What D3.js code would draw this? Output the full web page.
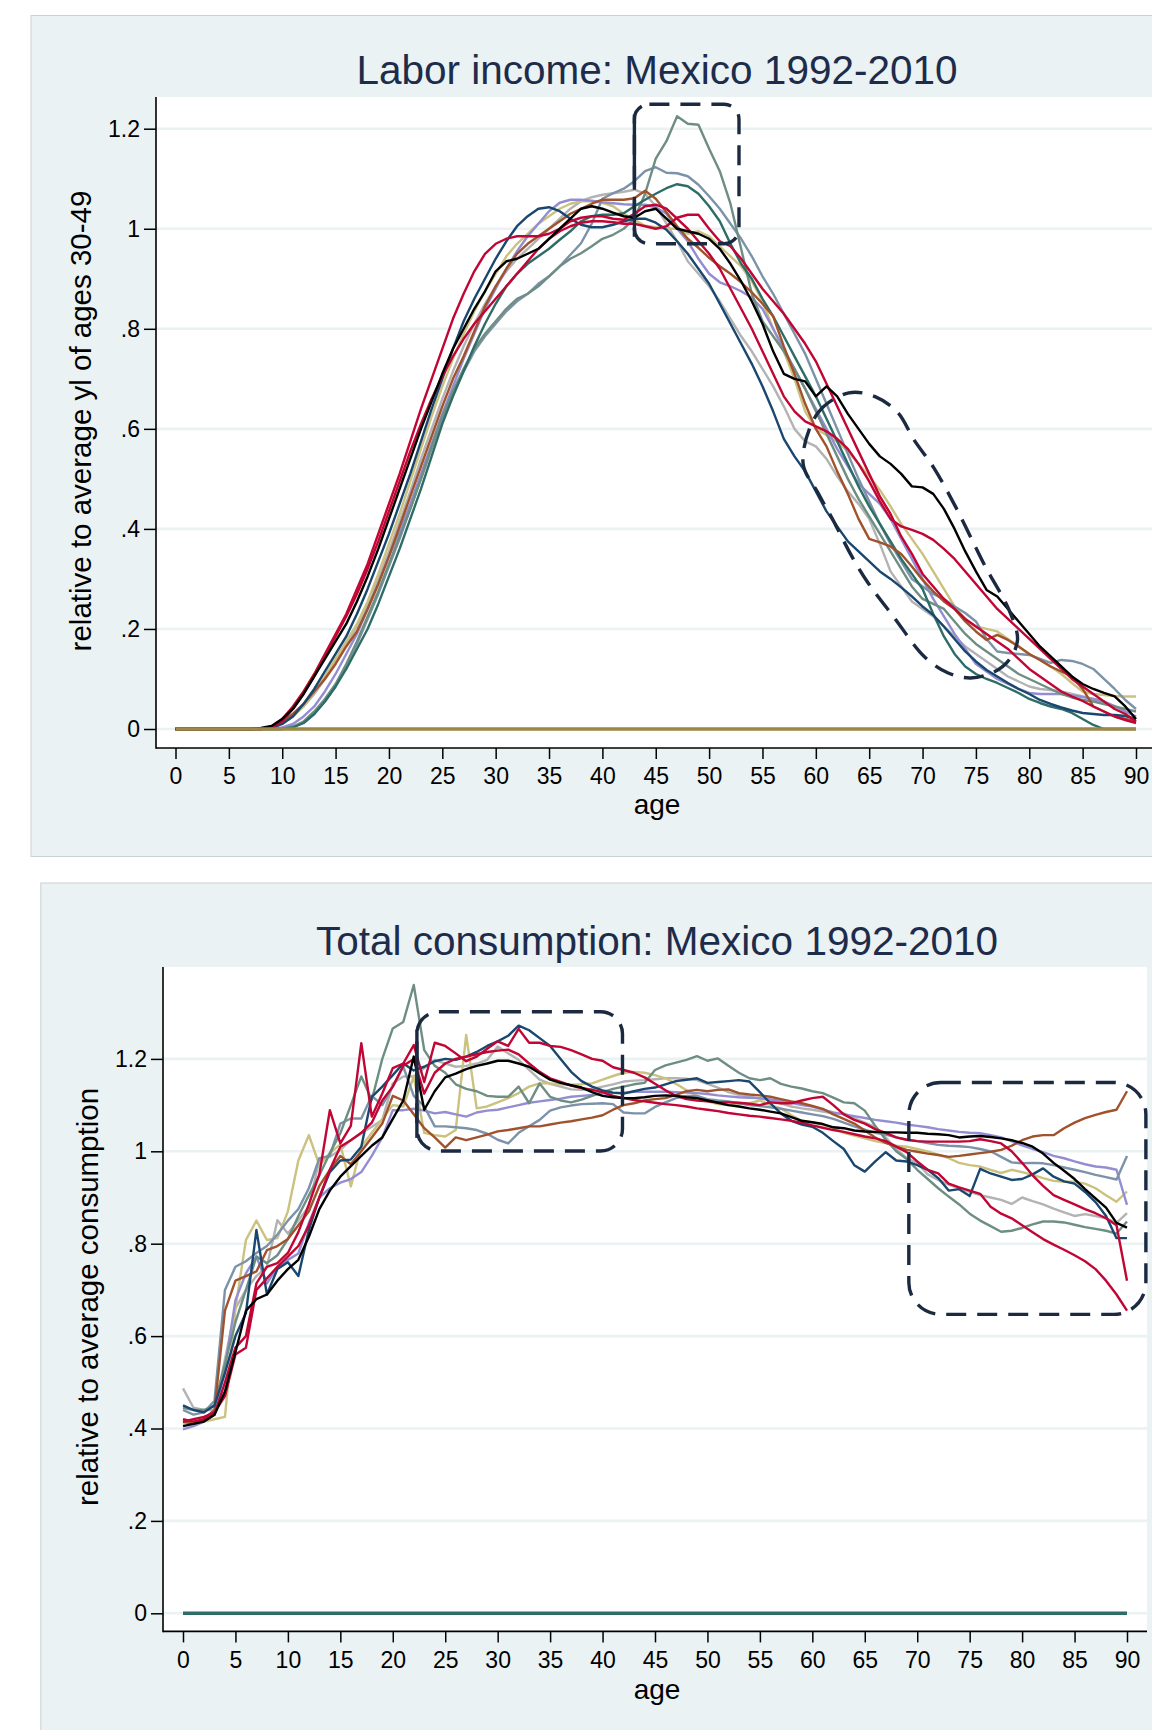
<!DOCTYPE html>
<html><head><meta charset="utf-8">
<script src="https://cdn.jsdelivr.net/npm/d3@7"></script>
<style>
body{margin:0;background:#ffffff}
svg{display:block}
</style>
</head><body>
<svg id="chart" width="1152" height="1730"></svg>
<script>
// ---------------- DATA ----------------
const ages = d3.range(0, 91);
const xTicks = [0,5,10,15,20,25,30,35,40,45,50,55,60,65,70,75,80,85,90];
const yTicks = [0,0.2,0.4,0.6,0.8,1,1.2];
const yTickLabels = ["0",".2",".4",".6",".8","1","1.2"];
const zeroAges = [0, 90];
const zeroValues = [0, 0];

// Labor income (relative to average yl of ages 30-49), one value per age 0..90
const li_black = [
0,0,0,0,0,0,0,0,.002,.006,
.02,.04,.07,.105,.14,.175,.21,.255,.305,.36,
.42,.48,.54,.6,.655,.71,.76,.8,.84,.875,
.915,.935,.94,.95,.96,.98,1.0,1.02,1.04,1.045,
1.04,1.032,1.025,1.022,1.035,1.04,1.02,1.0,.995,.99,
.98,.96,.93,.895,.855,.81,.755,.71,.7,.695,
.665,.685,.665,.63,.6,.57,.545,.53,.51,.485,
.483,.47,.44,.4,.355,.315,.278,.265,.24,.215,
.19,.165,.145,.125,.105,.09,.08,.072,.065,.045,
.02];
const li_navy = [
0,0,0,0,0,0,0,0,0,.002,
.01,.025,.05,.08,.115,.15,.185,.23,.28,.335,
.39,.45,.51,.575,.64,.7,.76,.815,.86,.9,
.94,.975,1.005,1.025,1.04,1.043,1.035,1.02,1.008,1.003,
1.003,1.008,1.015,1.02,1.02,1.012,.998,.975,.95,.92,
.89,.85,.81,.77,.73,.685,.635,.58,.545,.515,
.475,.435,.405,.375,.355,.335,.315,.3,.283,.265,
.245,.228,.205,.18,.155,.135,.118,.105,.092,.08,
.07,.058,.05,.043,.037,.032,.03,.028,.028,.026,
.02];
const li_redA = [
0,0,0,0,0,0,0,0,0,.005,
.02,.045,.075,.11,.15,.19,.23,.28,.33,.39,
.45,.51,.575,.64,.7,.76,.82,.87,.915,.95,
.97,.98,.985,.985,.985,.99,1.0,1.015,1.022,1.025,
1.025,1.02,1.018,1.03,1.045,1.048,1.04,1.02,1.0,.975,
.95,.92,.88,.84,.8,.755,.71,.665,.635,.615,
.605,.595,.58,.56,.53,.495,.455,.42,.405,.398,
.39,.378,.36,.34,.315,.29,.265,.24,.22,.2,
.18,.16,.14,.12,.1,.085,.07,.055,.04,.03,
.015];
const li_redB = [
0,0,0,0,0,0,0,0,0,.003,
.015,.04,.07,.105,.145,.185,.225,.27,.32,.375,
.435,.495,.555,.61,.66,.705,.745,.78,.81,.835,
.86,.885,.91,.935,.96,.98,.995,1.005,1.012,1.015,
1.015,1.013,1.01,1.01,1.005,1.0,1.005,1.022,1.028,1.028,
1.0,.975,.965,.94,.91,.88,.855,.83,.8,.77,
.735,.69,.645,.6,.555,.51,.465,.43,.385,.35,
.31,.285,.26,.24,.22,.205,.19,.175,.16,.14,
.12,.105,.09,.075,.065,.056,.045,.035,.025,.018,
.012];
const li_teal = [
0,0,0,0,0,0,0,0,0,0,
0,.005,.015,.035,.06,.09,.13,.175,.225,.275,
.33,.385,.44,.5,.565,.625,.675,.72,.76,.79,
.815,.84,.86,.87,.885,.905,.925,.94,.951,.965,
.98,.988,1.0,1.02,1.07,1.14,1.175,1.225,1.21,1.208,
1.16,1.115,1.05,.96,.87,.815,.785,.755,.72,.68,
.635,.59,.545,.5,.46,.425,.39,.355,.32,.285,
.26,.25,.24,.215,.19,.17,.155,.14,.125,.11,
.1,.09,.08,.07,.063,.058,.055,.05,.045,.04,
.035];
const li_emidblue = [
0,0,0,0,0,0,0,0,0,0,
0,.004,.012,.03,.055,.085,.125,.17,.22,.27,
.325,.38,.44,.5,.56,.62,.67,.715,.755,.785,
.81,.835,.855,.87,.89,.905,.925,.948,.971,1.01,
1.06,1.071,1.08,1.095,1.115,1.123,1.112,1.111,1.105,1.088,
1.065,1.04,1.01,.98,.945,.905,.87,.83,.79,.75,
.7,.65,.6,.55,.5,.455,.41,.37,.335,.3,
.285,.27,.26,.245,.232,.215,.18,.155,.152,.15,
.148,.14,.132,.138,.136,.13,.12,.1,.08,.058,
.04];
const li_emerald = [
0,0,0,0,0,0,0,0,0,0,
0,.003,.012,.03,.055,.085,.12,.16,.2,.25,
.305,.36,.42,.48,.545,.61,.665,.715,.765,.81,
.85,.885,.91,.93,.945,.96,.978,.995,1.015,1.025,
1.028,1.028,1.031,1.045,1.058,1.07,1.081,1.089,1.085,1.07,
1.045,1.015,.97,.93,.9,.86,.825,.785,.745,.705,
.665,.62,.575,.53,.485,.445,.41,.375,.34,.31,
.28,.23,.185,.15,.125,.11,.1,.092,.082,.072,
.06,.052,.045,.04,.032,.02,.008,0,0,0,
0];
const li_sienna = [
0,0,0,0,0,0,0,0,0,.005,
.015,.03,.05,.075,.1,.13,.165,.195,.24,.29,
.345,.405,.465,.525,.585,.645,.7,.745,.795,.845,
.885,.92,.95,.97,.985,1.0,1.015,1.03,1.04,1.05,
1.058,1.058,1.058,1.061,1.076,1.06,1.033,1.005,.98,.962,
.942,.925,.91,.893,.873,.85,.825,.765,.71,.65,
.6,.565,.515,.47,.42,.38,.373,.365,.35,.325,
.298,.275,.255,.24,.215,.195,.178,.188,.178,.165,
.15,.138,.125,.115,.105,.08,.045,.035,.025,.02,
.015];
const li_lavender = [
0,0,0,0,0,0,0,0,0,0,
.003,.01,.025,.045,.075,.11,.15,.19,.24,.29,
.345,.395,.45,.51,.57,.63,.685,.74,.79,.84,
.88,.92,.955,.985,1.01,1.035,1.052,1.058,1.058,1.056,
1.053,1.051,1.049,1.048,1.048,1.043,1.03,1.0,.975,.94,
.91,.893,.885,.875,.862,.84,.8,.76,.72,.68,
.64,.6,.56,.525,.49,.47,.45,.42,.38,.34,
.3,.26,.225,.19,.16,.13,.115,.1,.09,.08,
.072,.07,.07,.07,.067,.064,.06,.055,.046,.035,
.025];
const li_khaki = [
0,0,0,0,0,0,0,0,0,.003,
.01,.025,.045,.075,.105,.14,.175,.21,.255,.31,
.37,.43,.495,.56,.625,.685,.74,.79,.835,.875,
.91,.945,.97,.99,1.01,1.025,1.04,1.05,1.055,1.055,
1.052,1.045,1.03,1.018,1.006,1.003,1.0,1.0,.99,.995,
.985,.965,.945,.925,.895,.855,.8,.755,.7,.635,
.6,.588,.575,.555,.53,.505,.478,.445,.41,.38,
.35,.315,.28,.245,.22,.205,.2,.195,.18,.165,
.15,.138,.125,.11,.092,.075,.07,.068,.066,.065,
.065];
const li_gray = [
0,0,0,0,0,0,0,0,0,.003,
.012,.025,.045,.07,.1,.135,.17,.205,.25,.3,
.355,.415,.475,.54,.6,.66,.715,.765,.81,.85,
.885,.915,.94,.96,.98,1.0,1.02,1.04,1.055,1.063,
1.068,1.071,1.074,1.078,1.07,1.045,1.01,.975,.935,.91,
.885,.855,.82,.785,.755,.72,.685,.645,.6,.575,
.565,.54,.505,.475,.45,.42,.37,.315,.285,.255,
.24,.225,.205,.185,.165,.15,.135,.12,.105,.095,
.085,.08,.078,.075,.07,.065,.06,.055,.045,.035,
.025];

// Total consumption (relative to average consumption), one value per age 0..90
const co_black = [
.405,.41,.415,.43,.48,.565,.655,.68,.69,.72,
.745,.765,.815,.875,.915,.945,.968,.99,1.012,1.03,
1.07,1.11,1.205,1.09,1.13,1.16,1.168,1.178,1.185,1.19,
1.196,1.196,1.19,1.183,1.169,1.155,1.148,1.143,1.138,1.128,
1.12,1.117,1.115,1.115,1.117,1.12,1.121,1.12,1.117,1.115,
1.11,1.105,1.1,1.097,1.093,1.09,1.086,1.082,1.074,1.066,
1.063,1.059,1.052,1.05,1.045,1.043,1.042,1.041,1.041,1.04,
1.04,1.038,1.037,1.035,1.03,1.032,1.033,1.031,1.028,1.024,
1.018,1.01,.995,.975,.958,.94,.918,.898,.878,.845,
.835];
const co_navy = [
.45,.44,.435,.45,.52,.6,.65,.83,.69,.745,
.76,.73,.83,.9,.955,.98,.982,1.01,1.118,1.14,
1.165,1.19,1.175,1.183,1.195,1.2,1.198,1.205,1.215,1.228,
1.238,1.25,1.272,1.262,1.245,1.228,1.2,1.172,1.152,1.14,
1.132,1.127,1.125,1.13,1.135,1.138,1.145,1.152,1.155,1.158,
1.148,1.15,1.152,1.154,1.151,1.128,1.104,1.082,1.066,1.058,
1.053,1.04,1.022,1.005,.97,.956,.978,.998,.98,.978,
.97,.96,.942,.915,.918,.903,.962,.952,.945,.938,
.94,.95,.963,.945,.935,.93,.912,.89,.86,.812,
.812];
const co_redA = [
.42,.415,.42,.43,.5,.575,.6,.714,.75,.758,
.78,.825,.885,.95,1.089,1.017,1.055,1.234,1.075,1.125,
1.18,1.19,1.23,1.15,1.235,1.228,1.212,1.195,1.205,1.222,
1.238,1.228,1.265,1.235,1.235,1.228,1.226,1.219,1.21,1.2,
1.196,1.182,1.176,1.17,1.16,1.146,1.132,1.12,1.113,1.11,
1.108,1.106,1.106,1.105,1.103,1.1,1.106,1.104,1.104,1.11,
1.115,1.118,1.1,1.08,1.068,1.06,1.048,1.04,1.03,1.025,
1.022,1.021,1.021,1.021,1.021,1.022,1.026,1.022,1.017,1.0,
.975,.948,.925,.905,.895,.885,.875,.866,.855,.84,
.72];
const co_redB = [
.415,.42,.425,.435,.47,.56,.575,.7,.725,.75,
.772,.795,.84,.9,.96,1.01,1.024,1.04,1.062,1.11,
1.14,1.185,1.2,1.125,1.17,1.19,1.2,1.205,1.21,1.215,
1.218,1.22,1.21,1.19,1.172,1.158,1.15,1.142,1.137,1.133,
1.128,1.12,1.115,1.111,1.108,1.105,1.102,1.1,1.097,1.093,
1.09,1.087,1.083,1.08,1.077,1.075,1.072,1.069,1.066,1.062,
1.056,1.051,1.046,1.042,1.037,1.032,1.028,1.022,1.01,.998,
.978,.96,.952,.93,.922,.915,.908,.88,.865,.855,
.84,.825,.81,.798,.787,.775,.762,.745,.72,.69,
.655];
const co_teal = [
.445,.44,.44,.45,.54,.63,.7,.772,.758,.775,
.81,.86,.905,.948,.996,1.039,1.1,1.162,1.111,1.2,
1.266,1.28,1.36,1.219,1.185,1.17,1.145,1.135,1.13,1.12,
1.118,1.118,1.14,1.104,1.147,1.118,1.11,1.106,1.112,1.12,
1.128,1.135,1.14,1.145,1.148,1.176,1.186,1.192,1.198,1.206,
1.196,1.201,1.185,1.17,1.158,1.154,1.158,1.146,1.14,1.136,
1.13,1.126,1.116,1.106,1.104,1.088,1.055,1.025,1.0,.983,
.96,.94,.92,.902,.885,.865,.85,.838,.826,.828,
.834,.842,.848,.848,.846,.841,.836,.832,.828,.822,
.848];
const co_emidblue = [
.44,.43,.435,.46,.7,.75,.762,.78,.795,.82,
.85,.875,.92,.985,.99,1.06,1.071,1.071,1.12,1.1,
1.14,1.183,1.12,1.097,1.054,1.054,1.052,1.05,1.046,1.038,
1.025,1.017,1.04,1.054,1.068,1.088,1.095,1.099,1.102,1.103,
1.104,1.102,1.084,1.082,1.082,1.096,1.106,1.115,1.12,1.12,
1.113,1.11,1.108,1.104,1.1,1.098,1.095,1.092,1.088,1.084,
1.08,1.076,1.07,1.062,1.054,1.047,1.04,1.036,1.03,1.025,
1.022,1.018,1.014,1.012,1.011,1.009,1.005,1.0,.988,.976,
.974,.975,.974,.97,.965,.96,.955,.949,.944,.939,
.99];
const co_sienna = [
.415,.41,.42,.44,.655,.72,.73,.74,.786,.795,
.81,.84,.87,.925,.96,.99,.972,1.0,1.03,1.06,
1.12,1.11,1.08,1.05,1.03,1.008,1.03,1.024,1.03,1.036,
1.043,1.046,1.05,1.054,1.054,1.058,1.062,1.065,1.069,1.073,
1.078,1.09,1.1,1.104,1.11,1.113,1.115,1.122,1.13,1.133,
1.13,1.133,1.134,1.126,1.123,1.121,1.118,1.113,1.108,1.104,
1.098,1.092,1.08,1.07,1.06,1.045,1.03,1.018,1.01,1.003,
.999,.995,.992,.988,.99,.993,.996,.999,1.003,1.012,
1.024,1.032,1.035,1.035,1.05,1.062,1.072,1.079,1.085,1.09,
1.13];
const co_lavender = [
.398,.405,.415,.43,.53,.678,.736,.772,.714,.75,
.765,.779,.845,.9,.92,.932,.94,.955,.99,1.03,
1.089,1.089,1.092,1.088,1.082,1.085,1.08,1.075,1.084,1.088,
1.09,1.095,1.1,1.105,1.108,1.111,1.114,1.118,1.12,1.122,
1.125,1.126,1.127,1.129,1.129,1.129,1.129,1.128,1.127,1.126,
1.124,1.121,1.119,1.117,1.116,1.115,1.112,1.109,1.105,1.1,
1.097,1.09,1.084,1.08,1.076,1.072,1.068,1.065,1.062,1.058,
1.055,1.052,1.048,1.045,1.042,1.04,1.039,1.035,1.03,1.022,
1.013,1.005,.998,.99,.985,.978,.972,.967,.965,.96,
.884];
const co_khaki = [
.41,.415,.415,.42,.425,.66,.808,.85,.808,.812,
.87,.98,1.035,.97,.996,1.015,.924,1.01,1.04,1.07,
1.1,1.097,1.162,1.04,1.035,1.032,1.046,1.252,1.093,1.097,
1.106,1.115,1.126,1.14,1.147,1.147,1.145,1.144,1.145,1.147,
1.155,1.163,1.17,1.172,1.17,1.165,1.158,1.146,1.132,1.12,
1.108,1.102,1.1,1.102,1.104,1.11,1.1,1.093,1.078,1.066,
1.062,1.058,1.05,1.04,1.034,1.028,1.022,1.018,1.012,1.01,
1.005,1.0,.993,.985,.975,.97,.967,.96,.953,.96,
.955,.949,.942,.936,.934,.934,.93,.92,.905,.891,
.913];
const co_gray = [
.487,.445,.44,.44,.55,.66,.7,.73,.75,.851,
.822,.851,.88,.981,.988,1.003,1.024,1.039,1.053,1.068,
1.147,1.162,1.162,1.18,1.198,1.19,1.183,1.185,1.19,1.198,
1.227,1.212,1.198,1.176,1.155,1.146,1.14,1.134,1.133,1.135,
1.14,1.145,1.151,1.153,1.154,1.156,1.158,1.158,1.157,1.154,
1.146,1.138,1.128,1.122,1.118,1.114,1.111,1.104,1.097,1.093,
1.09,1.086,1.082,1.082,1.072,1.062,1.053,1.03,1.005,.985,
.975,.95,.938,.928,.92,.912,.905,.9,.895,.886,
.9,.892,.885,.876,.868,.86,.864,.86,.855,.845,
.866];

// Annotation shapes (in data units: age, value)
const liBoxAges = [43.0, 52.8];
const liBoxValues = [0.97, 1.249];
const liOvalAges =   [58.8,60.2,63.1,65.6,67.7,69.2,71.0,73.1,74.5,75.9,78.1,78.9,78.1,76.7,74.5,72.4,70.2,67.3,64.9,63.4,61.6,60.2];
const liOvalValues = [0.532,0.632,0.672,0.664,0.632,0.578,0.524,0.444,0.384,0.324,0.238,0.178,0.138,0.114,0.102,0.112,0.144,0.224,0.292,0.344,0.418,0.472];
const coBox1Ages = [22.3, 41.9];
const coBox1Values = [1.0007, 1.302];
const coBox2Ages = [69.2, 91.8];
const coBox2Values = [0.647, 1.149];

// ---------------- STYLE ----------------
const C = {
  black:"#000000", navy:"#1a476f", red:"#c10534", teal:"#6e8e84", emidblue:"#7b92a8",
  emerald:"#2d6d66", sienna:"#a0522d", lavender:"#938dd2", khaki:"#cac27e", gray:"#b3b3b3",
  brown:"#9c8847"
};
const FONT = '"Liberation Sans", Arial, Helvetica, sans-serif';
const BG = "#eaf2f3";
const ANNOT = "#1b2a41";

const laborSeries = [
  {v: li_gray, c: C.gray}, {v: li_khaki, c: C.khaki}, {v: li_lavender, c: C.lavender},
  {v: li_emidblue, c: C.emidblue}, {v: li_teal, c: C.teal}, {v: li_emerald, c: C.emerald},
  {v: li_sienna, c: C.sienna}, {v: li_navy, c: C.navy}, {v: li_redB, c: C.red},
  {v: li_redA, c: C.red}, {v: li_black, c: C.black}
];
const consSeries = [
  {v: co_gray, c: C.gray}, {v: co_khaki, c: C.khaki}, {v: co_lavender, c: C.lavender},
  {v: co_emidblue, c: C.emidblue}, {v: co_teal, c: C.teal}, {v: co_sienna, c: C.sienna},
  {v: co_navy, c: C.navy}, {v: co_redB, c: C.red}, {v: co_redA, c: C.red}, {v: co_black, c: C.black}
];

const svg = d3.select("#chart");

function panel(cfg) {
  const g = svg.append("g");
  g.append("rect").attr("x", cfg.bg[0]).attr("y", cfg.bg[1]).attr("width", cfg.bg[2]).attr("height", cfg.bg[3])
    .attr("fill", BG).attr("stroke", "#c9d1d4").attr("stroke-width", 1);
  const L = cfg.plot[0], T = cfg.plot[1], R = cfg.plot[2], B = cfg.plot[3];
  g.append("rect").attr("x", L).attr("y", T).attr("width", R - L).attr("height", B - T).attr("fill", "#ffffff");

  const x = d3.scaleLinear().domain([0, 90]).range(cfg.xr);
  const y = d3.scaleLinear().domain([0, 1.2]).range(cfg.yr);

  // gridlines
  g.append("g").selectAll("line").data(yTicks).join("line")
    .attr("x1", L).attr("x2", R).attr("y1", d => y(d)).attr("y2", d => y(d))
    .attr("stroke", BG).attr("stroke-width", 2.6);

  const clipId = "clip" + cfg.id;
  svg.append("clipPath").attr("id", clipId).append("rect")
    .attr("x", L + 1).attr("y", T).attr("width", R - L).attr("height", B - T - 1);

  const line = d3.line().x((d, i) => x(ages[i])).y(d => y(d)).curve(d3.curveLinear);
  const lg = g.append("g").attr("clip-path", `url(#${clipId})`);
  lg.selectAll("path.s").data(cfg.series).join("path").attr("class", "s")
    .attr("d", d => line(d.v)).attr("fill", "none").attr("stroke", d => d.c)
    .attr("stroke-width", 2.4).attr("stroke-linejoin", "round");
  const zline = d3.line().x((d, i) => x(zeroAges[i])).y(d => y(d));
  lg.append("path").attr("d", zline(zeroValues)).attr("fill", "none")
    .attr("stroke", cfg.zeroColor).attr("stroke-width", 3.4);

  // annotations
  const ag = g.append("g").attr("fill", "none").attr("stroke", ANNOT).attr("stroke-width", 3.4)
    .attr("stroke-dasharray", "20,11");
  cfg.boxes.forEach(b => {
    const x0 = x(b.a[0]), x1 = x(b.a[1]), y0 = y(b.v[1]), y1 = y(b.v[0]);
    ag.append("rect").attr("x", x0).attr("y", y0).attr("width", x1 - x0).attr("height", y1 - y0)
      .attr("rx", b.r).attr("ry", b.r);
    if (b.solidLeft) {
      b.solidLeft.forEach(s => {
        g.append("line").attr("x1", x0).attr("x2", x0).attr("y1", y(s[0])).attr("y2", y(s[1]))
          .attr("stroke", ANNOT).attr("stroke-width", 3.4);
      });
    }
  });
  if (cfg.oval) {
    const pts = cfg.oval.a.map((a, i) => [x(a), y(cfg.oval.v[i])]);
    ag.append("path").attr("d", d3.line().curve(d3.curveCatmullRomClosed.alpha(0.5))(pts));
  }

  // axes
  const yAxis = d3.axisLeft(y).tickValues(yTicks).tickFormat((d, i) => yTickLabels[i])
    .tickSize(12).tickPadding(4);
  const ya = g.append("g").attr("transform", `translate(${L},0)`).call(yAxis);
  const xAxis = d3.axisBottom(x).tickValues(xTicks).tickFormat(d => String(d))
    .tickSize(11).tickPadding(9);
  const xa = g.append("g").attr("transform", `translate(0,${B})`).call(xAxis);
  [ya, xa].forEach(a => {
    a.select(".domain").remove();
    a.selectAll(".tick line").attr("stroke", "#000").attr("stroke-width", 1.5);
    a.selectAll(".tick text").attr("font-family", FONT).attr("font-size", 23).attr("fill", "#000");
  });
  g.append("line").attr("x1", L).attr("x2", L).attr("y1", T).attr("y2", B + 0.8)
    .attr("stroke", "#000").attr("stroke-width", 1.6);
  g.append("line").attr("x1", L).attr("x2", R).attr("y1", B).attr("y2", B)
    .attr("stroke", "#000").attr("stroke-width", 1.6);

  // texts
  g.append("text").attr("x", cfg.title[1]).attr("y", cfg.title[2]).attr("text-anchor", "middle")
    .attr("font-family", FONT).attr("font-size", 40.5).attr("fill", "#1e2c4b").text(cfg.title[0]);
  g.append("text").attr("x", cfg.xlab[0]).attr("y", cfg.xlab[1]).attr("text-anchor", "middle")
    .attr("font-family", FONT).attr("font-size", 28).attr("fill", "#000").text("age");
  g.append("text").attr("transform", `translate(${cfg.ylab[1]},${cfg.ylab[2]}) rotate(-90)`)
    .attr("text-anchor", "middle").attr("dy", "0.35em")
    .attr("font-family", FONT).attr("font-size", 29.5).attr("fill", "#000").text(cfg.ylab[0]);
}

panel({
  id: "a",
  bg: [31, 15.5, 1200, 841],
  plot: [156, 97, 1160, 748],
  xr: [175.5, 1136], yr: [729, 128.7],
  series: laborSeries, zeroColor: C.brown,
  boxes: [{a: liBoxAges, v: liBoxValues, r: 15, solidLeft: [[1.228, 1.078], [1.058, 0.984]]}],
  oval: {a: liOvalAges, v: liOvalValues},
  title: ["Labor income: Mexico 1992-2010", 657, 84],
  xlab: [657, 814],
  ylab: ["relative to average yl of ages 30-49", 81, 421]
});

panel({
  id: "b",
  bg: [40.8, 883, 1200, 900],
  plot: [163, 967, 1147, 1631.4],
  xr: [183, 1127], yr: [1613.3, 1058.9],
  series: consSeries, zeroColor: C.emerald,
  boxes: [
    {a: coBox1Ages, v: coBox1Values, r: 22, solidLeft: [[1.263, 1.029]]},
    {a: coBox2Ages, v: coBox2Values, r: 32}
  ],
  oval: null,
  title: ["Total consumption: Mexico 1992-2010", 657, 955],
  xlab: [657, 1699],
  ylab: ["relative to average consumption", 88, 1297]
});
</script>
</body></html>
